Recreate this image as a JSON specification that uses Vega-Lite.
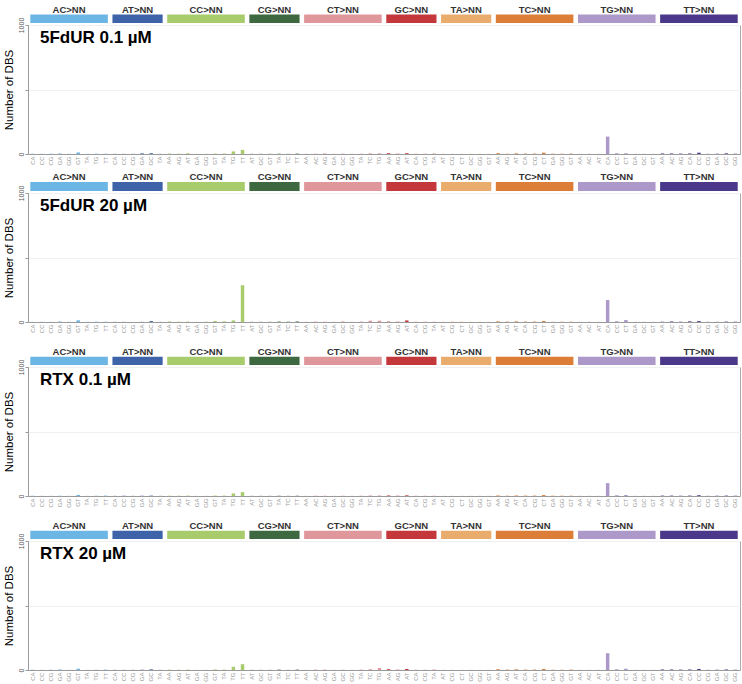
{
"$schema": "https://vega.github.io/schema/vega-lite/v6.json",
"padding": {"left": 2, "top": 2, "right": 2, "bottom": 0},
"config": {"font": "Liberation Sans", "view": {"stroke": "#a8a8a8", "strokeWidth": 1},
  "axisY": {"domainColor": "#9a9a9a", "tickColor": "#9a9a9a", "tickSize": 3, "labelFontSize": 7, "labelColor": "#555555", "labelPadding": 1, "gridColor": "#f0f0f0", "titleFontSize": 11.5, "titleFontWeight": "normal", "titleColor": "#000000", "titlePadding": 3, "labelAngle": 270, "format": "d"},
  "axisX": {"domainColor": "#9a9a9a", "ticks": false, "labelFontSize": 6, "labelColor": "#9a9a9a", "labelAngle": 270, "labelPadding": 2, "grid": false}},
"datasets": {
"groups": [
{"grp": "AC", "label": "AC>NN", "first": "AC>CA", "last": "AC>TT", "mid": "AC>GG", "n": 9},
{"grp": "AT", "label": "AT>NN", "first": "AT>CA", "last": "AT>TA", "mid": "AT>GA", "n": 6},
{"grp": "CC", "label": "CC>NN", "first": "CC>AA", "last": "CC>TT", "mid": "CC>GG", "n": 9},
{"grp": "CG", "label": "CG>NN", "first": "CG>AT", "last": "CG>TT", "mid": "CG>TA", "n": 6},
{"grp": "CT", "label": "CT>NN", "first": "CT>AA", "last": "CT>TG", "mid": "CT>GC", "n": 9},
{"grp": "GC", "label": "GC>NN", "first": "GC>AA", "last": "GC>TA", "mid": "GC>CA", "n": 6},
{"grp": "TA", "label": "TA>NN", "first": "TA>AT", "last": "TA>GT", "mid": "TA>GC", "n": 6},
{"grp": "TC", "label": "TC>NN", "first": "TC>AA", "last": "TC>GT", "mid": "TC>CG", "n": 9},
{"grp": "TG", "label": "TG>NN", "first": "TG>AA", "last": "TG>GT", "mid": "TG>CC", "n": 9},
{"grp": "TT", "label": "TT>NN", "first": "TT>AA", "last": "TT>GG", "mid": "TT>CC", "n": 9}
],
"dbs": [
{"ch": "AC>CA", "grp": "AC", "fdur01": 2, "fdur20": 1, "rtx01": 2, "rtx20": 2},
{"ch": "AC>CC", "grp": "AC", "fdur01": 1, "fdur20": 1, "rtx01": 1, "rtx20": 1},
{"ch": "AC>CG", "grp": "AC", "fdur01": 2, "fdur20": 1, "rtx01": 1, "rtx20": 2},
{"ch": "AC>GA", "grp": "AC", "fdur01": 3, "fdur20": 3, "rtx01": 2, "rtx20": 3},
{"ch": "AC>GG", "grp": "AC", "fdur01": 1, "fdur20": 1, "rtx01": 1, "rtx20": 1},
{"ch": "AC>GT", "grp": "AC", "fdur01": 12, "fdur20": 13, "rtx01": 8, "rtx20": 10},
{"ch": "AC>TA", "grp": "AC", "fdur01": 1, "fdur20": 1, "rtx01": 1, "rtx20": 1},
{"ch": "AC>TG", "grp": "AC", "fdur01": 2, "fdur20": 2, "rtx01": 2, "rtx20": 2},
{"ch": "AC>TT", "grp": "AC", "fdur01": 2, "fdur20": 2, "rtx01": 3, "rtx20": 3},
{"ch": "AT>CA", "grp": "AT", "fdur01": 1, "fdur20": 1, "rtx01": 1, "rtx20": 1},
{"ch": "AT>CC", "grp": "AT", "fdur01": 1, "fdur20": 1, "rtx01": 2, "rtx20": 1},
{"ch": "AT>CG", "grp": "AT", "fdur01": 1, "fdur20": 0, "rtx01": 1, "rtx20": 1},
{"ch": "AT>GA", "grp": "AT", "fdur01": 5, "fdur20": 1, "rtx01": 2, "rtx20": 2},
{"ch": "AT>GC", "grp": "AT", "fdur01": 6, "fdur20": 7, "rtx01": 3, "rtx20": 5},
{"ch": "AT>TA", "grp": "AT", "fdur01": 1, "fdur20": 1, "rtx01": 1, "rtx20": 1},
{"ch": "CC>AA", "grp": "CC", "fdur01": 3, "fdur20": 4, "rtx01": 2, "rtx20": 3},
{"ch": "CC>AG", "grp": "CC", "fdur01": 2, "fdur20": 2, "rtx01": 2, "rtx20": 2},
{"ch": "CC>AT", "grp": "CC", "fdur01": 5, "fdur20": 3, "rtx01": 3, "rtx20": 3},
{"ch": "CC>GA", "grp": "CC", "fdur01": 1, "fdur20": 1, "rtx01": 1, "rtx20": 1},
{"ch": "CC>GG", "grp": "CC", "fdur01": 1, "fdur20": 2, "rtx01": 1, "rtx20": 1},
{"ch": "CC>GT", "grp": "CC", "fdur01": 3, "fdur20": 8, "rtx01": 3, "rtx20": 4},
{"ch": "CC>TA", "grp": "CC", "fdur01": 3, "fdur20": 5, "rtx01": 3, "rtx20": 3},
{"ch": "CC>TG", "grp": "CC", "fdur01": 20, "fdur20": 12, "rtx01": 20, "rtx20": 25},
{"ch": "CC>TT", "grp": "CC", "fdur01": 32, "fdur20": 285, "rtx01": 30, "rtx20": 45},
{"ch": "CG>AT", "grp": "CG", "fdur01": 1, "fdur20": 1, "rtx01": 1, "rtx20": 1},
{"ch": "CG>GC", "grp": "CG", "fdur01": 1, "fdur20": 1, "rtx01": 1, "rtx20": 1},
{"ch": "CG>GT", "grp": "CG", "fdur01": 1, "fdur20": 1, "rtx01": 1, "rtx20": 1},
{"ch": "CG>TA", "grp": "CG", "fdur01": 2, "fdur20": 3, "rtx01": 2, "rtx20": 3},
{"ch": "CG>TC", "grp": "CG", "fdur01": 1, "fdur20": 2, "rtx01": 1, "rtx20": 1},
{"ch": "CG>TT", "grp": "CG", "fdur01": 3, "fdur20": 4, "rtx01": 2, "rtx20": 3},
{"ch": "CT>AA", "grp": "CT", "fdur01": 1, "fdur20": 1, "rtx01": 1, "rtx20": 1},
{"ch": "CT>AC", "grp": "CT", "fdur01": 2, "fdur20": 3, "rtx01": 2, "rtx20": 3},
{"ch": "CT>AG", "grp": "CT", "fdur01": 4, "fdur20": 2, "rtx01": 2, "rtx20": 3},
{"ch": "CT>GA", "grp": "CT", "fdur01": 1, "fdur20": 1, "rtx01": 1, "rtx20": 1},
{"ch": "CT>GC", "grp": "CT", "fdur01": 2, "fdur20": 4, "rtx01": 2, "rtx20": 2},
{"ch": "CT>GG", "grp": "CT", "fdur01": 1, "fdur20": 1, "rtx01": 1, "rtx20": 1},
{"ch": "CT>TA", "grp": "CT", "fdur01": 2, "fdur20": 3, "rtx01": 2, "rtx20": 3},
{"ch": "CT>TC", "grp": "CT", "fdur01": 5, "fdur20": 10, "rtx01": 4, "rtx20": 6},
{"ch": "CT>TG", "grp": "CT", "fdur01": 5, "fdur20": 10, "rtx01": 4, "rtx20": 15},
{"ch": "GC>AA", "grp": "GC", "fdur01": 6, "fdur20": 3, "rtx01": 4, "rtx20": 6},
{"ch": "GC>AG", "grp": "GC", "fdur01": 2, "fdur20": 2, "rtx01": 2, "rtx20": 2},
{"ch": "GC>AT", "grp": "GC", "fdur01": 6, "fdur20": 12, "rtx01": 5, "rtx20": 8},
{"ch": "GC>CA", "grp": "GC", "fdur01": 1, "fdur20": 1, "rtx01": 1, "rtx20": 1},
{"ch": "GC>CG", "grp": "GC", "fdur01": 1, "fdur20": 1, "rtx01": 1, "rtx20": 1},
{"ch": "GC>TA", "grp": "GC", "fdur01": 2, "fdur20": 1, "rtx01": 1, "rtx20": 2},
{"ch": "TA>AT", "grp": "TA", "fdur01": 1, "fdur20": 1, "rtx01": 1, "rtx20": 1},
{"ch": "TA>CG", "grp": "TA", "fdur01": 1, "fdur20": 2, "rtx01": 1, "rtx20": 1},
{"ch": "TA>CT", "grp": "TA", "fdur01": 1, "fdur20": 2, "rtx01": 1, "rtx20": 1},
{"ch": "TA>GC", "grp": "TA", "fdur01": 1, "fdur20": 1, "rtx01": 1, "rtx20": 1},
{"ch": "TA>GG", "grp": "TA", "fdur01": 1, "fdur20": 1, "rtx01": 1, "rtx20": 1},
{"ch": "TA>GT", "grp": "TA", "fdur01": 1, "fdur20": 1, "rtx01": 1, "rtx20": 1},
{"ch": "TC>AA", "grp": "TC", "fdur01": 6, "fdur20": 5, "rtx01": 4, "rtx20": 6},
{"ch": "TC>AG", "grp": "TC", "fdur01": 2, "fdur20": 3, "rtx01": 2, "rtx20": 3},
{"ch": "TC>AT", "grp": "TC", "fdur01": 5, "fdur20": 5, "rtx01": 4, "rtx20": 5},
{"ch": "TC>CA", "grp": "TC", "fdur01": 3, "fdur20": 3, "rtx01": 3, "rtx20": 3},
{"ch": "TC>CG", "grp": "TC", "fdur01": 3, "fdur20": 3, "rtx01": 3, "rtx20": 3},
{"ch": "TC>CT", "grp": "TC", "fdur01": 10, "fdur20": 8, "rtx01": 7, "rtx20": 8},
{"ch": "TC>GA", "grp": "TC", "fdur01": 2, "fdur20": 1, "rtx01": 2, "rtx20": 2},
{"ch": "TC>GG", "grp": "TC", "fdur01": 2, "fdur20": 2, "rtx01": 2, "rtx20": 2},
{"ch": "TC>GT", "grp": "TC", "fdur01": 3, "fdur20": 2, "rtx01": 2, "rtx20": 3},
{"ch": "TG>AA", "grp": "TG", "fdur01": 1, "fdur20": 1, "rtx01": 1, "rtx20": 1},
{"ch": "TG>AC", "grp": "TG", "fdur01": 1, "fdur20": 1, "rtx01": 1, "rtx20": 1},
{"ch": "TG>AT", "grp": "TG", "fdur01": 1, "fdur20": 1, "rtx01": 1, "rtx20": 1},
{"ch": "TG>CA", "grp": "TG", "fdur01": 135, "fdur20": 170, "rtx01": 100, "rtx20": 130},
{"ch": "TG>CC", "grp": "TG", "fdur01": 6, "fdur20": 6, "rtx01": 6, "rtx20": 6},
{"ch": "TG>CT", "grp": "TG", "fdur01": 6, "fdur20": 15, "rtx01": 8, "rtx20": 10},
{"ch": "TG>GA", "grp": "TG", "fdur01": 1, "fdur20": 1, "rtx01": 1, "rtx20": 1},
{"ch": "TG>GC", "grp": "TG", "fdur01": 1, "fdur20": 1, "rtx01": 1, "rtx20": 1},
{"ch": "TG>GT", "grp": "TG", "fdur01": 1, "fdur20": 1, "rtx01": 1, "rtx20": 1},
{"ch": "TT>AA", "grp": "TT", "fdur01": 4, "fdur20": 2, "rtx01": 3, "rtx20": 4},
{"ch": "TT>AC", "grp": "TT", "fdur01": 4, "fdur20": 4, "rtx01": 3, "rtx20": 4},
{"ch": "TT>AG", "grp": "TT", "fdur01": 3, "fdur20": 2, "rtx01": 2, "rtx20": 3},
{"ch": "TT>CA", "grp": "TT", "fdur01": 4, "fdur20": 5, "rtx01": 3, "rtx20": 4},
{"ch": "TT>CC", "grp": "TT", "fdur01": 10, "fdur20": 7, "rtx01": 6, "rtx20": 8},
{"ch": "TT>CG", "grp": "TT", "fdur01": 1, "fdur20": 1, "rtx01": 1, "rtx20": 1},
{"ch": "TT>GA", "grp": "TT", "fdur01": 2, "fdur20": 1, "rtx01": 2, "rtx20": 2},
{"ch": "TT>GC", "grp": "TT", "fdur01": 5, "fdur20": 3, "rtx01": 3, "rtx20": 4},
{"ch": "TT>GG", "grp": "TT", "fdur01": 2, "fdur20": 2, "rtx01": 2, "rtx20": 2}
]
},
"bounds": "flush",
"spacing": 2,
"vconcat": [
 {"width": 712, "height": 21, "data": {"name": "groups"}, "view": {"stroke": null},
  "layer": [
   {"mark": {"type": "rect"}, "encoding": {
     "x": {"field": "first", "type": "nominal", "bandPosition": 0.25, "axis": null, "scale": {"paddingInner": 0, "paddingOuter": 0, "domain": ["AC>CA","AC>CC","AC>CG","AC>GA","AC>GG","AC>GT","AC>TA","AC>TG","AC>TT","AT>CA","AT>CC","AT>CG","AT>GA","AT>GC","AT>TA","CC>AA","CC>AG","CC>AT","CC>GA","CC>GG","CC>GT","CC>TA","CC>TG","CC>TT","CG>AT","CG>GC","CG>GT","CG>TA","CG>TC","CG>TT","CT>AA","CT>AC","CT>AG","CT>GA","CT>GC","CT>GG","CT>TA","CT>TC","CT>TG","GC>AA","GC>AG","GC>AT","GC>CA","GC>CG","GC>TA","TA>AT","TA>CG","TA>CT","TA>GC","TA>GG","TA>GT","TC>AA","TC>AG","TC>AT","TC>CA","TC>CG","TC>CT","TC>GA","TC>GG","TC>GT","TG>AA","TG>AC","TG>AT","TG>CA","TG>CC","TG>CT","TG>GA","TG>GC","TG>GT","TT>AA","TT>AC","TT>AG","TT>CA","TT>CC","TT>CG","TT>GA","TT>GC","TT>GG"]}},
     "x2": {"field": "last", "bandPosition": 0.75},
     "y": {"datum": 0, "type": "quantitative", "scale": {"domain": [0, 21]}, "axis": null},
     "y2": {"datum": 9},
     "color": {"field": "grp", "type": "nominal", "legend": null, "scale": {"domain": ["AC","AT","CC","CG","CT","GC","TA","TC","TG","TT"], "range": ["#6cb6e5","#3e63a9","#a8cb6b","#3d6840","#e0979b","#c4373a","#eaac6c","#dc7e37","#ac99ca","#4b388a"]}}}},
   {"transform": [{"filter": "datum.n == 9"}], "mark": {"type": "text", "fontSize": 9.5, "fontWeight": "bold", "color": "#333333"}, "encoding": {"x": {"field": "mid", "type": "nominal", "bandPosition": 0.5}, "y": {"datum": 14}, "text": {"field": "label"}}},
   {"transform": [{"filter": "datum.n == 6"}], "mark": {"type": "text", "fontSize": 9.5, "fontWeight": "bold", "color": "#333333"}, "encoding": {"x": {"field": "mid", "type": "nominal", "bandPosition": 0}, "y": {"datum": 14}, "text": {"field": "label"}}}
  ]},
 {"width": 712, "height": 129, "data": {"name": "dbs"},
  "layer": [
   {"mark": {"type": "bar"}, "encoding": {
     "x": {"field": "ch", "type": "nominal", "sort": null, "scale": {"paddingInner": 0.62, "paddingOuter": 0.31}, "axis": {"title": null, "labelExpr": "substring(datum.label, 3, 5)"}},
     "y": {"field": "fdur01", "type": "quantitative", "scale": {"domain": [0, 1000]}, "axis": {"title": "Number of DBS", "values": [0, 250, 500, 750, 1000], "labelExpr": "datum.value == 0 || datum.value == 1000 ? datum.label : ''"}},
     "color": {"field": "grp", "type": "nominal", "legend": null, "scale": {"domain": ["AC","AT","CC","CG","CT","GC","TA","TC","TG","TT"], "range": ["#6cb6e5","#3e63a9","#a8cb6b","#3d6840","#e0979b","#c4373a","#eaac6c","#dc7e37","#ac99ca","#4b388a"]}}}},
   {"transform": [{"filter": "datum.ch == 'AC>CC'"}], "mark": {"type": "text", "align": "left", "baseline": "top", "fontSize": 17, "fontWeight": "bold", "color": "#000000", "dy": 5}, "encoding": {"x": {"field": "ch", "type": "nominal", "bandPosition": 0}, "y": {"datum": 1000}, "text": {"value": "5FdUR 0.1 µM"}}}
  ]},
 {"width": 712, "height": 35, "data": {"name": "groups"}, "view": {"stroke": null},
  "layer": [
   {"mark": {"type": "rect"}, "encoding": {
     "x": {"field": "first", "type": "nominal", "bandPosition": 0.25, "axis": null, "scale": {"paddingInner": 0, "paddingOuter": 0, "domain": ["AC>CA","AC>CC","AC>CG","AC>GA","AC>GG","AC>GT","AC>TA","AC>TG","AC>TT","AT>CA","AT>CC","AT>CG","AT>GA","AT>GC","AT>TA","CC>AA","CC>AG","CC>AT","CC>GA","CC>GG","CC>GT","CC>TA","CC>TG","CC>TT","CG>AT","CG>GC","CG>GT","CG>TA","CG>TC","CG>TT","CT>AA","CT>AC","CT>AG","CT>GA","CT>GC","CT>GG","CT>TA","CT>TC","CT>TG","GC>AA","GC>AG","GC>AT","GC>CA","GC>CG","GC>TA","TA>AT","TA>CG","TA>CT","TA>GC","TA>GG","TA>GT","TC>AA","TC>AG","TC>AT","TC>CA","TC>CG","TC>CT","TC>GA","TC>GG","TC>GT","TG>AA","TG>AC","TG>AT","TG>CA","TG>CC","TG>CT","TG>GA","TG>GC","TG>GT","TT>AA","TT>AC","TT>AG","TT>CA","TT>CC","TT>CG","TT>GA","TT>GC","TT>GG"]}},
     "x2": {"field": "last", "bandPosition": 0.75},
     "y": {"datum": 0, "type": "quantitative", "scale": {"domain": [0, 35]}, "axis": null},
     "y2": {"datum": 9},
     "color": {"field": "grp", "type": "nominal", "legend": null, "scale": {"domain": ["AC","AT","CC","CG","CT","GC","TA","TC","TG","TT"], "range": ["#6cb6e5","#3e63a9","#a8cb6b","#3d6840","#e0979b","#c4373a","#eaac6c","#dc7e37","#ac99ca","#4b388a"]}}}},
   {"transform": [{"filter": "datum.n == 9"}], "mark": {"type": "text", "fontSize": 9.5, "fontWeight": "bold", "color": "#333333"}, "encoding": {"x": {"field": "mid", "type": "nominal", "bandPosition": 0.5}, "y": {"datum": 14}, "text": {"field": "label"}}},
   {"transform": [{"filter": "datum.n == 6"}], "mark": {"type": "text", "fontSize": 9.5, "fontWeight": "bold", "color": "#333333"}, "encoding": {"x": {"field": "mid", "type": "nominal", "bandPosition": 0}, "y": {"datum": 14}, "text": {"field": "label"}}}
  ]},
 {"width": 712, "height": 129, "data": {"name": "dbs"},
  "layer": [
   {"mark": {"type": "bar"}, "encoding": {
     "x": {"field": "ch", "type": "nominal", "sort": null, "scale": {"paddingInner": 0.62, "paddingOuter": 0.31}, "axis": {"title": null, "labelExpr": "substring(datum.label, 3, 5)"}},
     "y": {"field": "fdur20", "type": "quantitative", "scale": {"domain": [0, 1000]}, "axis": {"title": "Number of DBS", "values": [0, 250, 500, 750, 1000], "labelExpr": "datum.value == 0 || datum.value == 1000 ? datum.label : ''"}},
     "color": {"field": "grp", "type": "nominal", "legend": null, "scale": {"domain": ["AC","AT","CC","CG","CT","GC","TA","TC","TG","TT"], "range": ["#6cb6e5","#3e63a9","#a8cb6b","#3d6840","#e0979b","#c4373a","#eaac6c","#dc7e37","#ac99ca","#4b388a"]}}}},
   {"transform": [{"filter": "datum.ch == 'AC>CC'"}], "mark": {"type": "text", "align": "left", "baseline": "top", "fontSize": 17, "fontWeight": "bold", "color": "#000000", "dy": 5}, "encoding": {"x": {"field": "ch", "type": "nominal", "bandPosition": 0}, "y": {"datum": 1000}, "text": {"value": "5FdUR 20 µM"}}}
  ]},
 {"width": 712, "height": 41, "data": {"name": "groups"}, "view": {"stroke": null},
  "layer": [
   {"mark": {"type": "rect"}, "encoding": {
     "x": {"field": "first", "type": "nominal", "bandPosition": 0.25, "axis": null, "scale": {"paddingInner": 0, "paddingOuter": 0, "domain": ["AC>CA","AC>CC","AC>CG","AC>GA","AC>GG","AC>GT","AC>TA","AC>TG","AC>TT","AT>CA","AT>CC","AT>CG","AT>GA","AT>GC","AT>TA","CC>AA","CC>AG","CC>AT","CC>GA","CC>GG","CC>GT","CC>TA","CC>TG","CC>TT","CG>AT","CG>GC","CG>GT","CG>TA","CG>TC","CG>TT","CT>AA","CT>AC","CT>AG","CT>GA","CT>GC","CT>GG","CT>TA","CT>TC","CT>TG","GC>AA","GC>AG","GC>AT","GC>CA","GC>CG","GC>TA","TA>AT","TA>CG","TA>CT","TA>GC","TA>GG","TA>GT","TC>AA","TC>AG","TC>AT","TC>CA","TC>CG","TC>CT","TC>GA","TC>GG","TC>GT","TG>AA","TG>AC","TG>AT","TG>CA","TG>CC","TG>CT","TG>GA","TG>GC","TG>GT","TT>AA","TT>AC","TT>AG","TT>CA","TT>CC","TT>CG","TT>GA","TT>GC","TT>GG"]}},
     "x2": {"field": "last", "bandPosition": 0.75},
     "y": {"datum": 0, "type": "quantitative", "scale": {"domain": [0, 41]}, "axis": null},
     "y2": {"datum": 9},
     "color": {"field": "grp", "type": "nominal", "legend": null, "scale": {"domain": ["AC","AT","CC","CG","CT","GC","TA","TC","TG","TT"], "range": ["#6cb6e5","#3e63a9","#a8cb6b","#3d6840","#e0979b","#c4373a","#eaac6c","#dc7e37","#ac99ca","#4b388a"]}}}},
   {"transform": [{"filter": "datum.n == 9"}], "mark": {"type": "text", "fontSize": 9.5, "fontWeight": "bold", "color": "#333333"}, "encoding": {"x": {"field": "mid", "type": "nominal", "bandPosition": 0.5}, "y": {"datum": 14}, "text": {"field": "label"}}},
   {"transform": [{"filter": "datum.n == 6"}], "mark": {"type": "text", "fontSize": 9.5, "fontWeight": "bold", "color": "#333333"}, "encoding": {"x": {"field": "mid", "type": "nominal", "bandPosition": 0}, "y": {"datum": 14}, "text": {"field": "label"}}}
  ]},
 {"width": 712, "height": 129, "data": {"name": "dbs"},
  "layer": [
   {"mark": {"type": "bar"}, "encoding": {
     "x": {"field": "ch", "type": "nominal", "sort": null, "scale": {"paddingInner": 0.62, "paddingOuter": 0.31}, "axis": {"title": null, "labelExpr": "substring(datum.label, 3, 5)"}},
     "y": {"field": "rtx01", "type": "quantitative", "scale": {"domain": [0, 1000]}, "axis": {"title": "Number of DBS", "values": [0, 250, 500, 750, 1000], "labelExpr": "datum.value == 0 || datum.value == 1000 ? datum.label : ''"}},
     "color": {"field": "grp", "type": "nominal", "legend": null, "scale": {"domain": ["AC","AT","CC","CG","CT","GC","TA","TC","TG","TT"], "range": ["#6cb6e5","#3e63a9","#a8cb6b","#3d6840","#e0979b","#c4373a","#eaac6c","#dc7e37","#ac99ca","#4b388a"]}}}},
   {"transform": [{"filter": "datum.ch == 'AC>CC'"}], "mark": {"type": "text", "align": "left", "baseline": "top", "fontSize": 17, "fontWeight": "bold", "color": "#000000", "dy": 5}, "encoding": {"x": {"field": "ch", "type": "nominal", "bandPosition": 0}, "y": {"datum": 1000}, "text": {"value": "RTX 0.1 µM"}}}
  ]},
 {"width": 712, "height": 41, "data": {"name": "groups"}, "view": {"stroke": null},
  "layer": [
   {"mark": {"type": "rect"}, "encoding": {
     "x": {"field": "first", "type": "nominal", "bandPosition": 0.25, "axis": null, "scale": {"paddingInner": 0, "paddingOuter": 0, "domain": ["AC>CA","AC>CC","AC>CG","AC>GA","AC>GG","AC>GT","AC>TA","AC>TG","AC>TT","AT>CA","AT>CC","AT>CG","AT>GA","AT>GC","AT>TA","CC>AA","CC>AG","CC>AT","CC>GA","CC>GG","CC>GT","CC>TA","CC>TG","CC>TT","CG>AT","CG>GC","CG>GT","CG>TA","CG>TC","CG>TT","CT>AA","CT>AC","CT>AG","CT>GA","CT>GC","CT>GG","CT>TA","CT>TC","CT>TG","GC>AA","GC>AG","GC>AT","GC>CA","GC>CG","GC>TA","TA>AT","TA>CG","TA>CT","TA>GC","TA>GG","TA>GT","TC>AA","TC>AG","TC>AT","TC>CA","TC>CG","TC>CT","TC>GA","TC>GG","TC>GT","TG>AA","TG>AC","TG>AT","TG>CA","TG>CC","TG>CT","TG>GA","TG>GC","TG>GT","TT>AA","TT>AC","TT>AG","TT>CA","TT>CC","TT>CG","TT>GA","TT>GC","TT>GG"]}},
     "x2": {"field": "last", "bandPosition": 0.75},
     "y": {"datum": 0, "type": "quantitative", "scale": {"domain": [0, 41]}, "axis": null},
     "y2": {"datum": 9},
     "color": {"field": "grp", "type": "nominal", "legend": null, "scale": {"domain": ["AC","AT","CC","CG","CT","GC","TA","TC","TG","TT"], "range": ["#6cb6e5","#3e63a9","#a8cb6b","#3d6840","#e0979b","#c4373a","#eaac6c","#dc7e37","#ac99ca","#4b388a"]}}}},
   {"transform": [{"filter": "datum.n == 9"}], "mark": {"type": "text", "fontSize": 9.5, "fontWeight": "bold", "color": "#333333"}, "encoding": {"x": {"field": "mid", "type": "nominal", "bandPosition": 0.5}, "y": {"datum": 14}, "text": {"field": "label"}}},
   {"transform": [{"filter": "datum.n == 6"}], "mark": {"type": "text", "fontSize": 9.5, "fontWeight": "bold", "color": "#333333"}, "encoding": {"x": {"field": "mid", "type": "nominal", "bandPosition": 0}, "y": {"datum": 14}, "text": {"field": "label"}}}
  ]},
 {"width": 712, "height": 129, "data": {"name": "dbs"},
  "layer": [
   {"mark": {"type": "bar"}, "encoding": {
     "x": {"field": "ch", "type": "nominal", "sort": null, "scale": {"paddingInner": 0.62, "paddingOuter": 0.31}, "axis": {"title": null, "labelExpr": "substring(datum.label, 3, 5)"}},
     "y": {"field": "rtx20", "type": "quantitative", "scale": {"domain": [0, 1000]}, "axis": {"title": "Number of DBS", "values": [0, 250, 500, 750, 1000], "labelExpr": "datum.value == 0 || datum.value == 1000 ? datum.label : ''"}},
     "color": {"field": "grp", "type": "nominal", "legend": null, "scale": {"domain": ["AC","AT","CC","CG","CT","GC","TA","TC","TG","TT"], "range": ["#6cb6e5","#3e63a9","#a8cb6b","#3d6840","#e0979b","#c4373a","#eaac6c","#dc7e37","#ac99ca","#4b388a"]}}}},
   {"transform": [{"filter": "datum.ch == 'AC>CC'"}], "mark": {"type": "text", "align": "left", "baseline": "top", "fontSize": 17, "fontWeight": "bold", "color": "#000000", "dy": 5}, "encoding": {"x": {"field": "ch", "type": "nominal", "bandPosition": 0}, "y": {"datum": 1000}, "text": {"value": "RTX 20 µM"}}}
  ]}
]
}
